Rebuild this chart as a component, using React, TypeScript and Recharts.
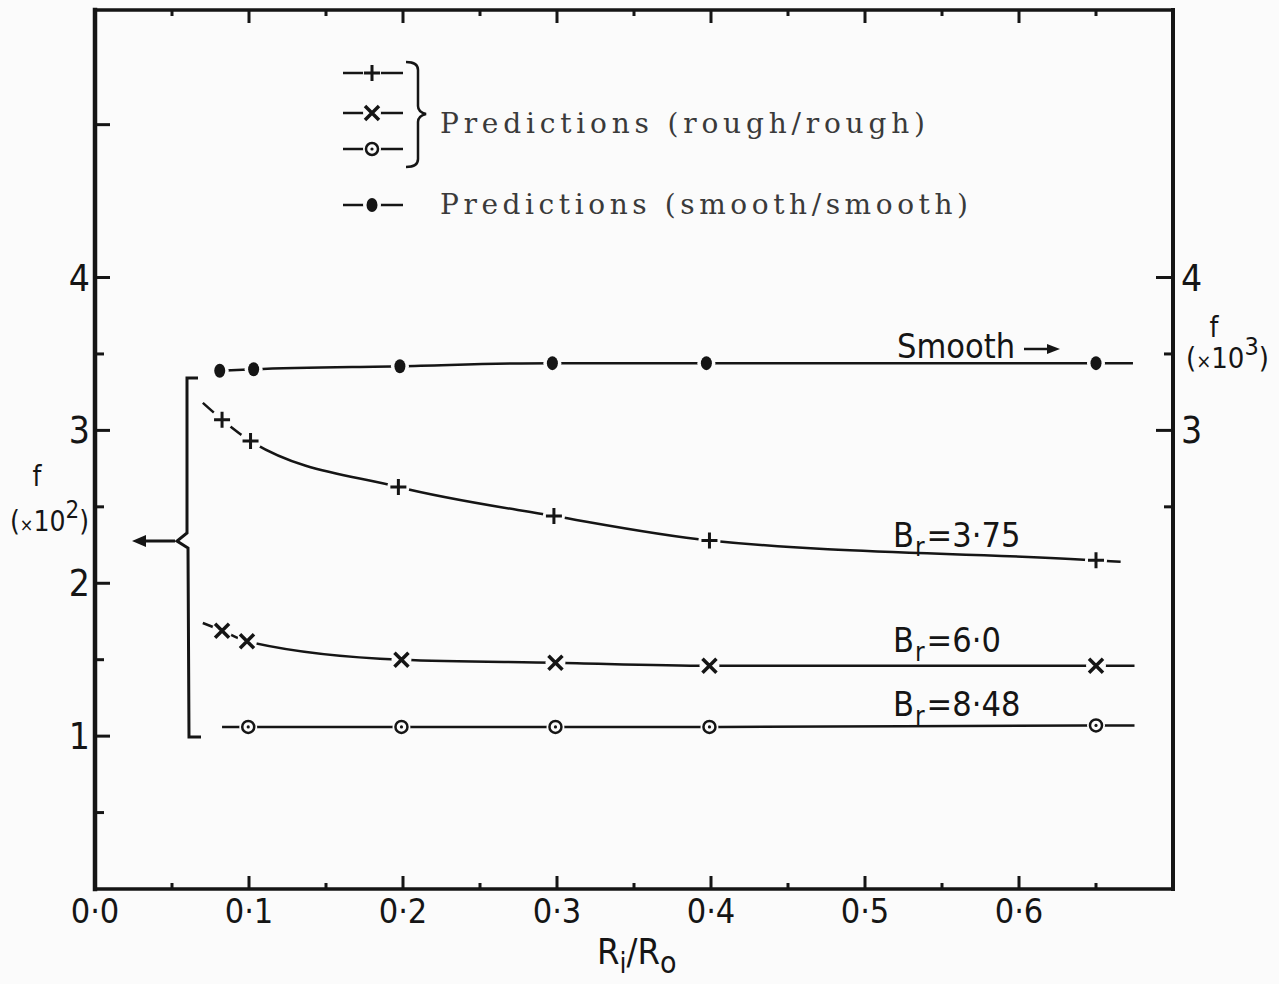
import React from 'react';
import { LineChart, Line, XAxis, YAxis } from 'recharts';

const CHART_W = 1279;
const CHART_H = 984;
const BG = '#fbfbfb';
const INK = '#151515';
const DIN = "'DejaVu Sans Condensed', 'Liberation Sans Narrow', Roboto, 'DejaVu Sans', sans-serif";
const TYPEWRITER = "'DejaVu Serif', 'Liberation Serif', serif";

// ---- data (x = Ri/Ro, f on the left scale, x10^2) ----
const smoothX = [0.081, 0.103, 0.198, 0.297, 0.397, 0.65];
const smoothF = [3.39, 3.4, 3.42, 3.44, 3.44, 3.44];
const smoothLineEnd = [0.674, 3.44];

const br375X = [0.0825, 0.101, 0.197, 0.298, 0.399, 0.65];
const br375F = [3.07, 2.93, 2.63, 2.44, 2.28, 2.15];
const br375LineStart = [0.07, 3.18];
const br375LineEnd = [0.666, 2.14];

const br60X = [0.0825, 0.0987, 0.199, 0.299, 0.399, 0.65];
const br60F = [1.69, 1.62, 1.5, 1.48, 1.46, 1.46];
const br60LineStart = [0.07, 1.74];
const br60LineEnd = [0.675, 1.46];

const br848X = [0.0995, 0.199, 0.299, 0.399, 0.65];
const br848F = [1.06, 1.06, 1.06, 1.06, 1.07];
const br848LineStart = [0.0825, 1.06];
const br848LineEnd = [0.675, 1.07];

// ---- ticks ----
const xTicks = [0, 0.05, 0.1, 0.15, 0.2, 0.25, 0.3, 0.35, 0.4, 0.45, 0.5, 0.55, 0.6, 0.65];
const xTickLabels = ['0·0', '0·1', '0·2', '0·3', '0·4', '0·5', '0·6'];
const leftTicks = [0.5, 1, 1.5, 2, 2.5, 3, 3.5, 4, 5];
const leftTickLabels = ['1', '2', '3', '4'];
const rightTicks = [2.5, 3, 3.5, 4];
const rightTickLabels = ['3', '4'];

type Pt = { x: number; f: number; m: boolean };
function buildSeries(xs: number[], fs: number[], start: number[] | null, end: number[] | null): Pt[] {
  const pts: Pt[] = xs.map((x, i) => ({ x, f: fs[i], m: true }));
  if (start) pts.unshift({ x: start[0], f: start[1], m: false });
  if (end) pts.push({ x: end[0], f: end[1], m: false });
  return pts;
}

const smoothData = buildSeries(smoothX, smoothF, null, smoothLineEnd);
const br375Data = buildSeries(br375X, br375F, br375LineStart, br375LineEnd);
const br60Data = buildSeries(br60X, br60F, br60LineStart, br60LineEnd);
const br848Data = buildSeries(br848X, br848F, br848LineStart, br848LineEnd);

function glyph(kind: string, cx: number, cy: number) {
  if (kind === 'plus')
    return <path d={`M${cx - 8},${cy}H${cx + 8}M${cx},${cy - 8}V${cy + 8}`} stroke={INK} strokeWidth={3} fill="none" />;
  if (kind === 'cross')
    return (
      <path
        d={`M${cx - 7},${cy - 7}L${cx + 7},${cy + 7}M${cx + 7},${cy - 7}L${cx - 7},${cy + 7}`}
        stroke={INK}
        strokeWidth={3.5}
        fill="none"
      />
    );
  if (kind === 'ring')
    return (
      <g>
        <circle cx={cx} cy={cy} r={6} fill={BG} stroke={INK} strokeWidth={2.5} />
        <circle cx={cx} cy={cy} r={1.6} fill={INK} />
      </g>
    );
  return <ellipse cx={cx} cy={cy} rx={5.5} ry={7} fill={INK} />;
}

const knock: Record<string, number> = { plus: 11, cross: 10, ring: 9, disc: 9 };

const makeDot = (kind: string) => (props: any) => {
  const { cx, cy, payload, index } = props;
  const key = `${kind}-${index}`;
  if (!payload || !payload.m || cx == null || cy == null) return <g key={key} />;
  return (
    <g key={key}>
      <circle cx={cx} cy={cy} r={knock[kind]} fill={BG} />
      {glyph(kind, cx, cy)}
    </g>
  );
};

const isMajorX = (v: number) => Math.abs(v * 10 - Math.round(v * 10)) < 1e-6;

const renderBottomTick = (props: any) => {
  const { x, y, payload } = props;
  const v = payload.value;
  const major = isMajorX(v);
  return (
    <g>
      <line x1={x} x2={x} y1={y} y2={y - (major ? 13 : 6)} stroke={INK} strokeWidth={3} />
      {major && (
        <text x={x} y={y + 34} textAnchor="middle" fontFamily={DIN} fontSize={34} fill={INK}>
          {xTickLabels[Math.round(v * 10)]}
        </text>
      )}
    </g>
  );
};

const renderTopTick = (props: any) => {
  const { x, y, payload } = props;
  const major = isMajorX(payload.value);
  if (payload.value === 0) return <g />;
  return <line x1={x} x2={x} y1={y} y2={y + (major ? 13 : 6)} stroke={INK} strokeWidth={3} />;
};

const renderLeftTick = (props: any) => {
  const { x, y, payload } = props;
  const v = payload.value;
  const major = Number.isInteger(v);
  const lbl = major && v >= 1 && v <= 4 ? leftTickLabels[v - 1] : null;
  return (
    <g>
      <line x1={x} x2={x + (major ? 15 : 9)} y1={y} y2={y} stroke={INK} strokeWidth={3} />
      {lbl && (
        <text x={x - 5} y={y + 13} textAnchor="end" fontFamily={DIN} fontSize={37} fill={INK}>
          {lbl}
        </text>
      )}
    </g>
  );
};

const renderRightTick = (props: any) => {
  const { x, y, payload } = props;
  const v = payload.value;
  const major = Number.isInteger(v);
  const lbl = major ? rightTickLabels[v - 3] : null;
  return (
    <g>
      <line x1={x} x2={x - (major ? 17 : 9)} y1={y} y2={y} stroke={INK} strokeWidth={3} />
      {lbl && (
        <text x={x + 8} y={y + 13} textAnchor="start" fontFamily={DIN} fontSize={37} fill={INK}>
          {lbl}
        </text>
      )}
    </g>
  );
};

function BrLabel({ x, y, value }: { x: number; y: number; value: string }) {
  return (
    <text x={x} y={y} fontFamily={DIN} fontSize={34} fill={INK}>
      B
      <tspan dx={1} dy={9} fontSize={26}>r</tspan>
      <tspan dx={2} dy={-9}>={value}</tspan>
    </text>
  );
}

function LegendRow({ y, kind }: { y: number; kind: string }) {
  return (
    <g>
      <line x1={343} x2={403} y1={y} y2={y} stroke={INK} strokeWidth={2.5} />
      <circle cx={372} cy={y} r={9} fill={BG} />
      {glyph(kind, 372, y)}
    </g>
  );
}

function Overlay() {
  return (
    <svg
      width={CHART_W}
      height={CHART_H}
      style={{ position: 'absolute', left: 0, top: 0, pointerEvents: 'none' }}
    >
      {/* legend */}
      <LegendRow y={73} kind="plus" />
      <LegendRow y={113} kind="cross" />
      <LegendRow y={149} kind="ring" />
      <path
        d="M406,62 Q418,62 418,70 L418,106 Q418,112 426,114 Q418,116 418,122 L418,159 Q418,167 406,167"
        stroke={INK}
        strokeWidth={2.5}
        fill="none"
      />
      <text x={440} y={133} fontFamily={TYPEWRITER} fontSize={28} fill="#3a3a3a" textLength={485} lengthAdjust="spacing">
        Predictions (rough/rough)
      </text>
      <LegendRow y={205} kind="disc" />
      <text x={440} y={214} fontFamily={TYPEWRITER} fontSize={28} fill="#3a3a3a" textLength={528} lengthAdjust="spacing">
        Predictions (smooth/smooth)
      </text>

      {/* curve labels */}
      <text x={897} y={358} fontFamily={DIN} fontSize={34} fill={INK}>
        Smooth
      </text>
      <line x1={1024} x2={1050} y1={349} y2={349} stroke={INK} strokeWidth={2.5} />
      <polygon points="1060,349 1047,344 1047,354" fill={INK} />
      <BrLabel x={893} y={547} value="3·75" />
      <BrLabel x={893} y={652} value="6·0" />
      <BrLabel x={893} y={716} value="8·48" />

      {/* bracket + arrow to left scale */}
      <path
        d="M198,378 L187,378 L187,533 L177,541 L188,548 L189,737 L201,737"
        stroke={INK}
        strokeWidth={3}
        fill="none"
      />
      <line x1={175} x2={142} y1={541} y2={541} stroke={INK} strokeWidth={3} />
      <polygon points="132,541 146,535 146,547" fill={INK} />

      {/* axis titles */}
      <text x={37} y={486} fontFamily={DIN} fontSize={28} fill={INK} textAnchor="middle">
        f
      </text>
      <text x={10} y={531} fontFamily={DIN} fontSize={28} fill={INK}>
        (
        <tspan fontSize={18}>×</tspan>
        10
        <tspan dy={-13} fontSize={24}>2</tspan>
        <tspan dy={13}>)</tspan>
      </text>
      <text x={1214} y={337} fontFamily={DIN} fontSize={28} fill={INK} textAnchor="middle">
        f
      </text>
      <text x={1186} y={368} fontFamily={DIN} fontSize={29} fill={INK}>
        (
        <tspan fontSize={20}>×</tspan>
        10
        <tspan dy={-13} fontSize={25}>3</tspan>
        <tspan dy={13}>)</tspan>
      </text>
      <text x={597} y={964} fontFamily={DIN} fontSize={36} fill={INK}>
        R
        <tspan dy={9} fontSize={28}>i</tspan>
        <tspan dy={-9}>/R</tspan>
        <tspan dy={9} fontSize={30}>o</tspan>
      </text>
    </svg>
  );
}

export default function App() {
  return (
    <div style={{ position: 'absolute', left: 0, top: 0, width: CHART_W, height: CHART_H, background: BG }}>
      <LineChart width={CHART_W} height={CHART_H} margin={{ top: 9, right: 46, bottom: 35, left: 35 }}>
        <XAxis
          xAxisId="b"
          dataKey="x"
          type="number"
          domain={[0, 0.7]}
          ticks={xTicks}
          interval={0}
          allowDataOverflow
          height={60}
          tickSize={0}
          tickMargin={0}
          tickLine={false}
          axisLine={{ stroke: INK, strokeWidth: 3.5, strokeLinecap: 'square' }}
          tick={renderBottomTick}
        />
        <XAxis
          xAxisId="t"
          dataKey="x"
          orientation="top"
          type="number"
          domain={[0, 0.7]}
          ticks={xTicks}
          interval={0}
          allowDataOverflow
          height={1}
          tickSize={0}
          tickMargin={0}
          tickLine={false}
          axisLine={{ stroke: INK, strokeWidth: 3.5, strokeLinecap: 'square' }}
          tick={renderTopTick}
        />
        <YAxis
          yAxisId="l"
          type="number"
          domain={[0, 5.75]}
          ticks={leftTicks}
          interval={0}
          allowDataOverflow
          width={60}
          tickSize={0}
          tickMargin={0}
          tickLine={false}
          axisLine={{ stroke: INK, strokeWidth: 4.5, strokeLinecap: 'square' }}
          tick={renderLeftTick}
        />
        <YAxis
          yAxisId="r"
          orientation="right"
          type="number"
          domain={[0, 5.75]}
          ticks={rightTicks}
          interval={0}
          allowDataOverflow
          width={60}
          tickSize={0}
          tickMargin={0}
          tickLine={false}
          axisLine={{ stroke: INK, strokeWidth: 4, strokeLinecap: 'square' }}
          tick={renderRightTick}
        />
        <Line
          data={smoothData}
          dataKey="f"
          xAxisId="b"
          yAxisId="l"
          type="monotone"
          stroke={INK}
          strokeWidth={2.5}
          dot={makeDot('disc')}
          activeDot={false}
          isAnimationActive={false}
        />
        <Line
          data={br375Data}
          dataKey="f"
          xAxisId="b"
          yAxisId="l"
          type="monotone"
          stroke={INK}
          strokeWidth={2.5}
          dot={makeDot('plus')}
          activeDot={false}
          isAnimationActive={false}
        />
        <Line
          data={br60Data}
          dataKey="f"
          xAxisId="b"
          yAxisId="l"
          type="monotone"
          stroke={INK}
          strokeWidth={2.5}
          dot={makeDot('cross')}
          activeDot={false}
          isAnimationActive={false}
        />
        <Line
          data={br848Data}
          dataKey="f"
          xAxisId="b"
          yAxisId="l"
          type="monotone"
          stroke={INK}
          strokeWidth={2.5}
          dot={makeDot('ring')}
          activeDot={false}
          isAnimationActive={false}
        />
      </LineChart>
      <Overlay />
    </div>
  );
}
